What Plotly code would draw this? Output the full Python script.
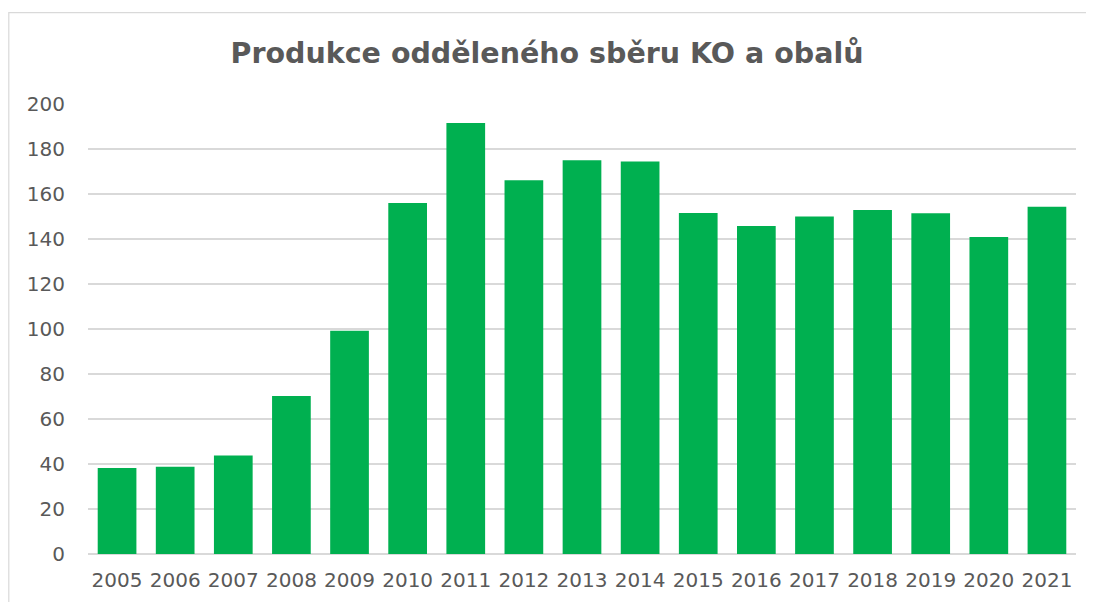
import plotly.graph_objects as go

years = ["2005", "2006", "2007", "2008", "2009", "2010", "2011", "2012", "2013",
         "2014", "2015", "2016", "2017", "2018", "2019", "2020", "2021"]
values = [38.2, 38.8, 43.8, 70.2, 99.2, 156.0, 191.6, 166.1, 175.0,
          174.4, 151.6, 145.8, 150.0, 152.9, 151.4, 140.9, 154.3]
y_ticks = [0, 20, 40, 60, 80, 100, 120, 140, 160, 180, 200]

# page has an 8px body margin; figure coordinates are page coordinates minus 8
OFF = 8
W, H = 1094 - 2 * OFF, 610 - 2 * OFF
L, T = 88 - OFF, 104 - OFF
R = W - (1076 - OFF)
B = H - (554 - OFF)
pw, ph = W - L - R, H - T - B

fig = go.Figure(go.Bar(x=years, y=values, marker=dict(color="#00B050", line=dict(width=0))))

def px_x(p):
    return (p - OFF - L) / pw

def px_y(p):
    return (H - B - (p - OFF)) / ph

fig.add_shape(type="rect", xref="paper", yref="paper",
              x0=px_x(8.8), x1=px_x(1120), y0=px_y(640), y1=px_y(12.7),
              line=dict(color="#d9d9d9", width=1.2), fillcolor="rgba(0,0,0,0)", layer="below")

fig.update_layout(
    width=W, height=H,
    margin=dict(l=L, r=R, t=T, b=B, autoexpand=False),
    paper_bgcolor="white", plot_bgcolor="white",
    bargap=0.334,
    showlegend=False,
    font=dict(family="DejaVu Sans", color="#595959"),
    title=dict(text="<b>Produkce odděleného sběru KO a obalů</b>",
               x=0.5, xanchor="center", y=1 - (53 - OFF) / H, yanchor="middle", yref="container",
               font=dict(family="DejaVu Sans", size=28.5, color="#595959")),
    xaxis=dict(showgrid=False, showline=False, ticks="", tickfont=dict(size=20, color="#595959"),
               ticklabelstandoff=12),
    yaxis=dict(range=[0, 200], tickvals=y_ticks, showgrid=True, gridcolor="#d9d9d9", gridwidth=1.5,
               zeroline=True, zerolinecolor="#d9d9d9", zerolinewidth=1.5, showline=False,
               tickfont=dict(size=20, color="#595959"), ticklabelstandoff=22),
)

fig.write_html("out.html")
